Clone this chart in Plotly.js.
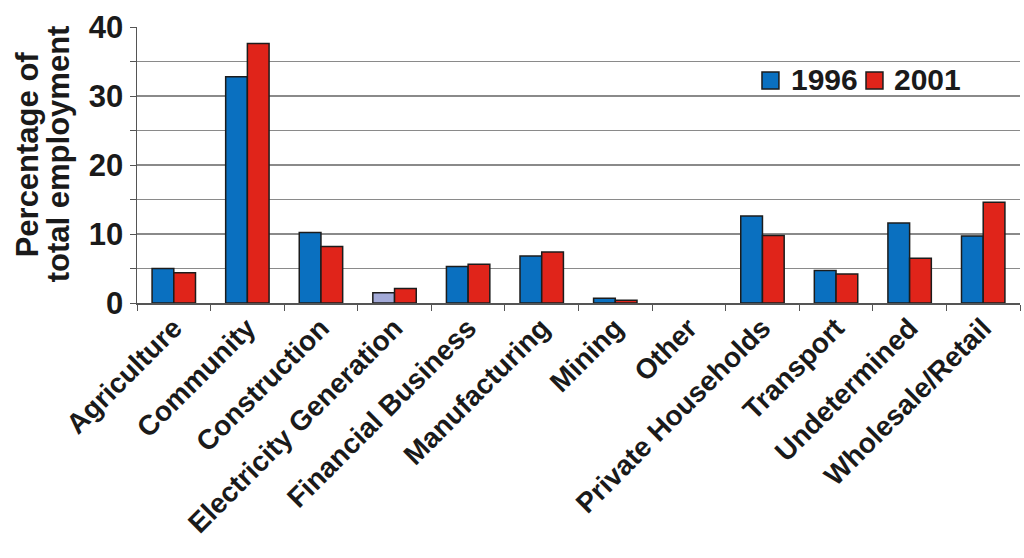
<!DOCTYPE html>
<html>
<head>
<meta charset="utf-8">
<script src="https://cdn.plot.ly/plotly-3.0.1.min.js"></script>
<style>
  html, body { margin: 0; padding: 0; background: #ffffff; }
  #chart { width: 1024px; height: 558px; }
</style>
</head>
<body>
<div id="chart"></div>
<script>
// Employment share by industry, 1996 vs 2001
const sectors = [
  'Agriculture', 'Community', 'Construction', 'Electricity Generation',
  'Financial Business', 'Manufacturing', 'Mining', 'Other',
  'Private Households', 'Transport', 'Undetermined', 'Wholesale/Retail'
];
const seriesNames = ['1996', '2001'];
const share1996 = [5.0, 32.8, 10.2, 1.5, 5.3, 6.8, 0.7, 0, 12.6, 4.7, 11.6, 9.7];
const share2001 = [4.4, 37.6, 8.2, 2.1, 5.6, 7.4, 0.4, 0, 9.8, 4.2, 6.5, 14.6];
const yTickValues = [0, 5, 10, 15, 20, 25, 30, 35, 40];
const yTickText = ['0', '', '10', '', '20', '', '30', '', '40'];

const FONT = '"Liberation Sans", Arial, Helvetica, sans-serif';
const BLUE = '#0a70c0';
const RED = '#e0241a';
const LAVENDER = '#a3aad8';
const OUTLINE = '#1c1c1c';

// the electricity bar for 1996 is shaded differently
const colors1996 = sectors.map(s => s === 'Electricity Generation' ? LAVENDER : BLUE);
// empty bars get no outline
const outlineWidth = vals => vals.map(v => (v > 0 ? 1.5 : 0));

const traces = [
  {
    type: 'bar', name: seriesNames[0], x: sectors, y: share1996,
    marker: { color: colors1996, line: { color: OUTLINE, width: outlineWidth(share1996) } },
    hoverinfo: 'x+y+name'
  },
  {
    type: 'bar', name: seriesNames[1], x: sectors, y: share2001,
    marker: { color: RED, line: { color: OUTLINE, width: outlineWidth(share2001) } },
    hoverinfo: 'x+y+name'
  }
];

// legend keys drawn in paper space
function keyBox(x0, x1, color) {
  return {
    type: 'rect', xref: 'paper', yref: 'paper',
    x0: x0, x1: x1, y0: 0.775, y1: 0.837,
    fillcolor: color, line: { color: OUTLINE, width: 1.5 }
  };
}
function keyLabel(x, text) {
  return {
    xref: 'paper', yref: 'paper', x: x, y: 0.808,
    xanchor: 'left', yanchor: 'middle', showarrow: false, borderpad: 0,
    text: text, font: { family: FONT, size: 30, color: '#1a1a1a', weight: 'bold' }
  };
}
function yTitleLine(xPaper, text) {
  return {
    xref: 'paper', yref: 'paper', x: xPaper, y: 0.54,
    xanchor: 'center', yanchor: 'middle', showarrow: false, textangle: -90,
    text: text, font: { family: FONT, size: 31, color: '#1a1a1a', weight: 'bold' }
  };
}

const layout = {
  width: 1024, height: 558,
  margin: { l: 137, r: 4, t: 27, b: 255 },
  paper_bgcolor: '#ffffff', plot_bgcolor: '#ffffff',
  showlegend: false,
  barmode: 'group', bargap: 0.41, bargroupgap: 0,
  font: { family: FONT, color: '#1a1a1a' },
  xaxis: {
    type: 'category',
    showline: true, linecolor: '#555555', linewidth: 1.5,
    ticks: 'outside', tickson: 'boundaries', ticklen: 6, tickcolor: '#555555', tickwidth: 1,
    tickangle: -45, ticklabelstandoff: -4,
    tickfont: { family: FONT, size: 28, color: '#1a1a1a', weight: 'bold' },
    showgrid: false, zeroline: false, fixedrange: true
  },
  yaxis: {
    range: [0, 40],
    tickmode: 'array', tickvals: yTickValues, ticktext: yTickText,
    showline: true, linecolor: '#555555', linewidth: 1.5,
    ticks: 'outside', ticklen: 6, tickcolor: '#555555', tickwidth: 1,
    tickfont: { family: FONT, size: 31, color: '#1a1a1a', weight: 'bold' },
    showgrid: true, gridcolor: '#8a8a8a', gridwidth: 1.5,
    zeroline: false, fixedrange: true
  },
  shapes: [
    keyBox(0.7078, 0.727, BLUE),
    keyBox(0.8256, 0.8448, RED)
  ],
  annotations: [
    keyLabel(0.7395, seriesNames[0]),
    keyLabel(0.856, seriesNames[1]),
    yTitleLine(-0.123, 'Percentage of'),
    yTitleLine(-0.088, 'total employment')
  ]
};

Plotly.newPlot('chart', traces, layout, { displayModeBar: false, staticPlot: true });
</script>
</body>
</html>
